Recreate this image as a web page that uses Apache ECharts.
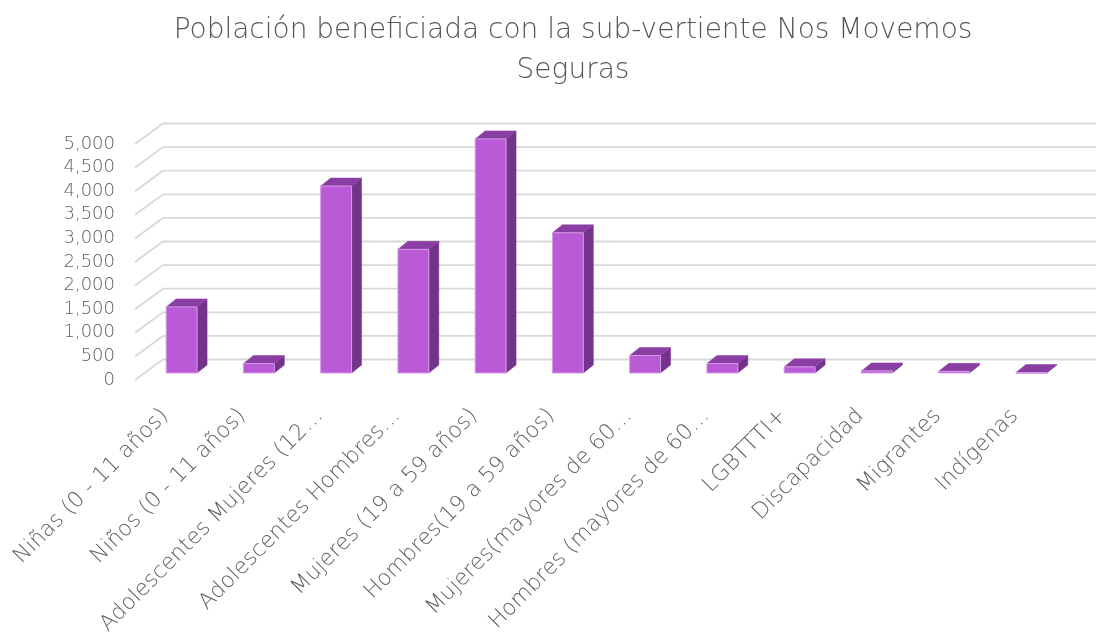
<!DOCTYPE html>
<html>
<head>
<meta charset="utf-8">
<script src="https://cdn.jsdelivr.net/npm/echarts@6/dist/echarts.min.js"></script>
<style>html,body{margin:0;padding:0;background:#fff}#c{width:1096px;height:639px}</style>
</head>
<body>
<div id="c"></div>
<script>
const categories = ['Niñas (0 - 11 años)', 'Niños (0 - 11 años)', 'Adolescentes Mujeres (12…', 'Adolescentes Hombres…', 'Mujeres (19 a 59 años)', 'Hombres(19 a 59 años)', 'Mujeres(mayores de 60…', 'Hombres (mayores de 60…', 'LGBTTTI+', 'Discapacidad', 'Migrantes', 'Indígenas'];
const values = [1400, 200, 3960, 2620, 4960, 2970, 370, 200, 130, 45, 35, 10];
const yTicks = [0, 500, 1000, 1500, 2000, 2500, 3000, 3500, 4000, 4500, 5000];
const yTickLabels = ['0', '500', '1,000', '1,500', '2,000', '2,500', '3,000', '3,500', '4,000', '4,500', '5,000'];
const titleText = 'Población beneficiada con la sub-vertiente Nos Movemos\nSeguras';

const FONT = 'DejaVu Sans';
const chart = echarts.init(document.getElementById('c'), null, {renderer: 'canvas'});

const WALL_DX = 28, WALL_DY = -20.5;   // depth of the back wall
const BAR_OX = 8, BAR_OY = -7;         // bar front plane offset
const BAR_DX = 10, BAR_DY = -8;        // bar depth

chart.setOption({
  animation: false,
  backgroundColor: '#ffffff',
  title: {
    text: titleText,
    left: 568,
    top: 6,
    textAlign: 'center',
    textStyle: {fontFamily: FONT, fontSize: 28, fontWeight: 200, color: '#555555', lineHeight: 40}
  },
  grid: {left: 135, right: 34, top: 144, bottom: 259, containLabel: false, outerBoundsMode: 'none'},
  xAxis: {
    type: 'category',
    data: categories,
    axisLine: {show: false},
    axisTick: {show: false},
    splitLine: {show: false},
    axisLabel: {
      interval: 0, rotate: 45, margin: 24, padding: [0, 12, 0, 0],
      fontFamily: FONT, fontSize: 22, fontWeight: 200, color: '#5e5e5e'
    }
  },
  yAxis: {
    type: 'value',
    min: 0, max: 5000, interval: 500,
    axisLine: {show: false},
    axisTick: {show: false},
    splitLine: {show: false},
    axisLabel: {
      margin: 20, fontFamily: FONT, fontSize: 18, fontWeight: 200, color: '#5e5e5e',
      formatter: function (v) { const i = yTicks.indexOf(v); return i >= 0 ? yTickLabels[i] : ''; }
    }
  },
  series: [
    {
      type: 'custom',
      silent: true,
      clip: false,
      data: yTicks.map(v => [0, v]),
      encode: {x: 0, y: 1},
      renderItem: function (params, api) {
        const cs = params.coordSys;
        const y = api.coord([0, api.value(1)])[1];
        const x0 = cs.x;
        return {
          type: 'polyline',
          shape: {points: [[x0, y], [x0 + WALL_DX, y + WALL_DY], [cs.x + cs.width + 40, y + WALL_DY]]},
          style: {stroke: '#d9d9d9', lineWidth: 1.8, fill: null}
        };
      }
    },
    {
      type: 'custom',
      clip: false,
      data: values.map((v, i) => [i, v]),
      encode: {x: 0, y: 1},
      renderItem: function (params, api) {
        const p = api.coord([api.value(0), api.value(1)]);
        const p0 = api.coord([api.value(0), 0]);
        const band = api.size([1, 0])[0];
        const w = band * 0.4;
        const left = p[0] - w / 2 + BAR_OX;
        const right = left + w;
        const top = p[1] + BAR_OY;
        const bottom = p0[1] + BAR_OY;
        return {
          type: 'group',
          children: [
            {type: 'polygon', shape: {points: [[right, top], [right + BAR_DX, top + BAR_DY], [right + BAR_DX, bottom + BAR_DY], [right, bottom]]},
             style: {fill: '#74338b', stroke: '#74338b', lineWidth: 0.5}},
            {type: 'polygon', shape: {points: [[left, top], [left + BAR_DX, top + BAR_DY], [right + BAR_DX, top + BAR_DY], [right, top]]},
             style: {fill: '#8a3ea4', stroke: '#8a3ea4', lineWidth: 0.5}},
            {type: 'rect', shape: {x: left, y: top, width: w, height: Math.max(bottom - top, 0.8)},
             style: {fill: '#ba5ad6', stroke: '#d39ce6', lineWidth: 1}}
          ]
        };
      }
    }
  ]
});
</script>
</body>
</html>
